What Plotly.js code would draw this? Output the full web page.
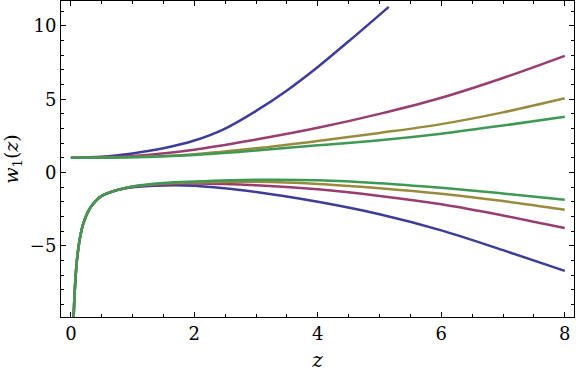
<!DOCTYPE html>
<html>
<head>
<meta charset="utf-8">
<script src="https://cdn.plot.ly/plotly-3.0.1.min.js"></script>
<style>
  html, body { margin: 0; padding: 0; background: #fff; }
  #chart { width: 576px; height: 376px; }
</style>
</head>
<body>
<div id="chart"></div>
<script>
// Series colours (blue, magenta, olive, green)
const names = ['blue', 'magenta', 'olive', 'green'];
const colors = ['#3d3d99', '#993d71', '#998b3d', '#3d9954'];

// Upper branches, all starting at w = 1
const zUpperBlue = [0, 0.5, 1, 1.5, 2, 2.5, 3, 3.5, 4, 4.5, 5.15];
const wUpperBlue = [1, 1.07, 1.3, 1.65, 2.18, 3.0, 4.2, 5.6, 7.2, 8.95, 11.3];

const zUpper = [0, 1, 2, 3, 4, 5, 6, 7, 8];
const wUpperMagenta = [1, 1.12, 1.55, 2.25, 3.05, 4.0, 5.1, 6.45, 7.96];
const wUpperOlive = [1, 1.05, 1.25, 1.65, 2.15, 2.7, 3.3, 4.1, 5.06];
const wUpperGreen = [1, 1.04, 1.2, 1.5, 1.85, 2.2, 2.65, 3.2, 3.8];

// Lower branches: common steep start near z = 0
const zNear = [0.045, 0.06, 0.08, 0.1, 0.15, 0.2, 0.3, 0.4, 0.5, 0.75];
const wNear = [-9.85, -8.3, -6.9, -5.9, -4.4, -3.5, -2.5, -1.95, -1.6, -1.2];

const zLower = [1, 1.5, 2, 3, 4, 5, 6, 7, 8];
const wLowerBlue = [-1.0, -0.88, -0.9, -1.33, -2.0, -2.85, -3.95, -5.3, -6.71];
const wLowerMagenta = [-0.97, -0.8, -0.76, -0.87, -1.15, -1.6, -2.17, -2.93, -3.79];
const wLowerOlive = [-0.96, -0.75, -0.68, -0.64, -0.78, -1.07, -1.45, -1.95, -2.54];
const wLowerGreen = [-0.95, -0.72, -0.62, -0.5, -0.53, -0.73, -1.05, -1.43, -1.86];

const upperZ = [zUpperBlue, zUpper, zUpper, zUpper];
const upperW = [wUpperBlue, wUpperMagenta, wUpperOlive, wUpperGreen];
const lowerW = [wLowerBlue, wLowerMagenta, wLowerOlive, wLowerGreen];

const traces = [];
for (let i = 0; i < 4; i++) {
    traces.push({
        x: upperZ[i], y: upperW[i], name: names[i] + ' upper',
        type: 'scatter', mode: 'lines',
        line: {color: colors[i], width: 2.5, shape: 'spline', smoothing: 1}
    });
    traces.push({
        x: zNear.concat(zLower), y: wNear.concat(lowerW[i]), name: names[i] + ' lower',
        type: 'scatter', mode: 'lines',
        line: {color: colors[i], width: 2.5, shape: 'spline', smoothing: 1}
    });
}

const serif = 'DejaVu Serif';

const layout = {
    width: 576,
    height: 376,
    showlegend: false,
    paper_bgcolor: '#fff',
    plot_bgcolor: '#fff',
    margin: {l: 61, r: 2, t: 1, b: 59},
    font: {family: serif, size: 18, color: '#000'},
    xaxis: {
        range: [-0.16, 8.15],
        tickvals: [0, 2, 4, 6, 8],
        ticks: 'inside', ticklen: 5, tickwidth: 1, tickcolor: '#000',
        minor: {dtick: 0.5, ticks: 'inside', ticklen: 3, tickcolor: '#000', showgrid: false},
        showline: true, linecolor: '#000', linewidth: 1, mirror: 'allticks',
        showgrid: false, zeroline: false,
        tickfont: {family: serif, size: 18, color: '#000'},
        title: {text: '<i>z</i>', font: {family: serif, size: 20, color: '#000'}, standoff: 10}
    },
    yaxis: {
        range: [-9.86, 11.7],
        tickvals: [-5, 0, 5, 10],
        ticks: 'inside', ticklen: 5, tickwidth: 1, tickcolor: '#000',
        minor: {dtick: 1, ticks: 'inside', ticklen: 3, tickcolor: '#000', showgrid: false},
        showline: true, linecolor: '#000', linewidth: 1, mirror: 'allticks',
        showgrid: false, zeroline: false,
        tickfont: {family: serif, size: 18, color: '#000'},
        title: {text: '<i>w</i><sub>1</sub>(<i>z</i>)', font: {family: serif, size: 19, color: '#000'}, standoff: 6}
    }
};

Plotly.newPlot('chart', traces, layout, {staticPlot: true});
</script>
</body>
</html>
